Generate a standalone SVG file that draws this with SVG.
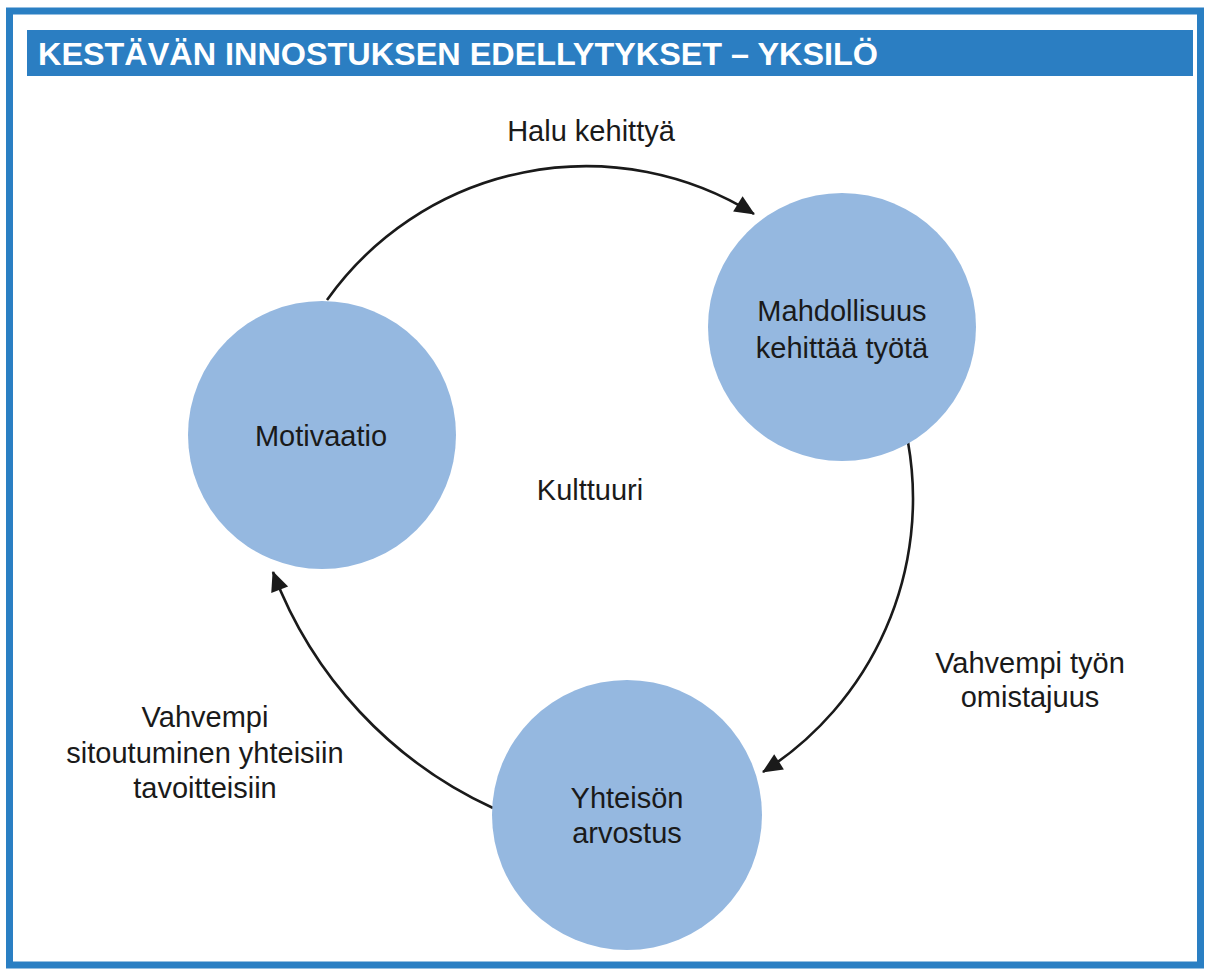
<svg xmlns="http://www.w3.org/2000/svg" width="1208" height="969" viewBox="0 0 1208 969">
  <style>
    .frame { fill: #ffffff; stroke: #2a7fc3; stroke-width: 7; }
    .bar { fill: #2b7ec2; }
    .title { font-family: "Liberation Sans", Arial, sans-serif; font-weight: bold; font-size: 32px; fill: #ffffff; }
    .node { fill: #95b8e0; }
    .lbl { font-family: "Liberation Sans", Arial, sans-serif; font-size: 29px; fill: #1a1a1a; text-anchor: middle; }
    .conn { fill: none; stroke: #1a1a1a; stroke-width: 2.6; }
  </style>
  <defs>
    <marker id="arrow" markerUnits="userSpaceOnUse" markerWidth="24" markerHeight="24" viewBox="0 0 24 24" refX="21" refY="12" orient="auto">
      <path d="M2,3 L22,12 L2,21 z" fill="#1a1a1a"/>
    </marker>
  </defs>

  <rect class="frame" x="9.5" y="11" width="1191" height="954"/>
  <rect class="bar" x="27" y="30" width="1166" height="46"/>
  <text class="title" x="38" y="65" textLength="840" lengthAdjust="spacingAndGlyphs">KESTÄVÄN INNOSTUKSEN EDELLYTYKSET – YKSILÖ</text>

  <g id="connectors">
    <path class="conn" d="M327,300 A318,318 0 0 1 754,214" marker-end="url(#arrow)"/>
    <path class="conn" d="M908,442 A324,324 0 0 1 763,772" marker-end="url(#arrow)"/>
    <path class="conn" d="M493,808 A424,424 0 0 1 273,572" marker-end="url(#arrow)"/>
  </g>

  <g id="node-motivaatio">
    <circle class="node" cx="322" cy="435" r="134"/>
    <text class="lbl" x="321" y="446">Motivaatio</text>
  </g>
  <g id="node-mahdollisuus">
    <circle class="node" cx="842" cy="327" r="134"/>
    <text class="lbl" x="842" y="321">Mahdollisuus</text>
    <text class="lbl" x="842" y="358">kehittää työtä</text>
  </g>
  <g id="node-yhteison">
    <circle class="node" cx="627" cy="815" r="135"/>
    <text class="lbl" x="627" y="808">Yhteisön</text>
    <text class="lbl" x="627" y="843">arvostus</text>
  </g>

  <g id="labels">
    <text class="lbl" x="591" y="141">Halu kehittyä</text>
    <text class="lbl" x="590" y="500">Kulttuuri</text>
    <text class="lbl" x="1030" y="673">Vahvempi työn</text>
    <text class="lbl" x="1030" y="707">omistajuus</text>
    <text class="lbl" x="205" y="727">Vahvempi</text>
    <text class="lbl" x="205" y="763">sitoutuminen yhteisiin</text>
    <text class="lbl" x="205" y="798">tavoitteisiin</text>
  </g>
</svg>
